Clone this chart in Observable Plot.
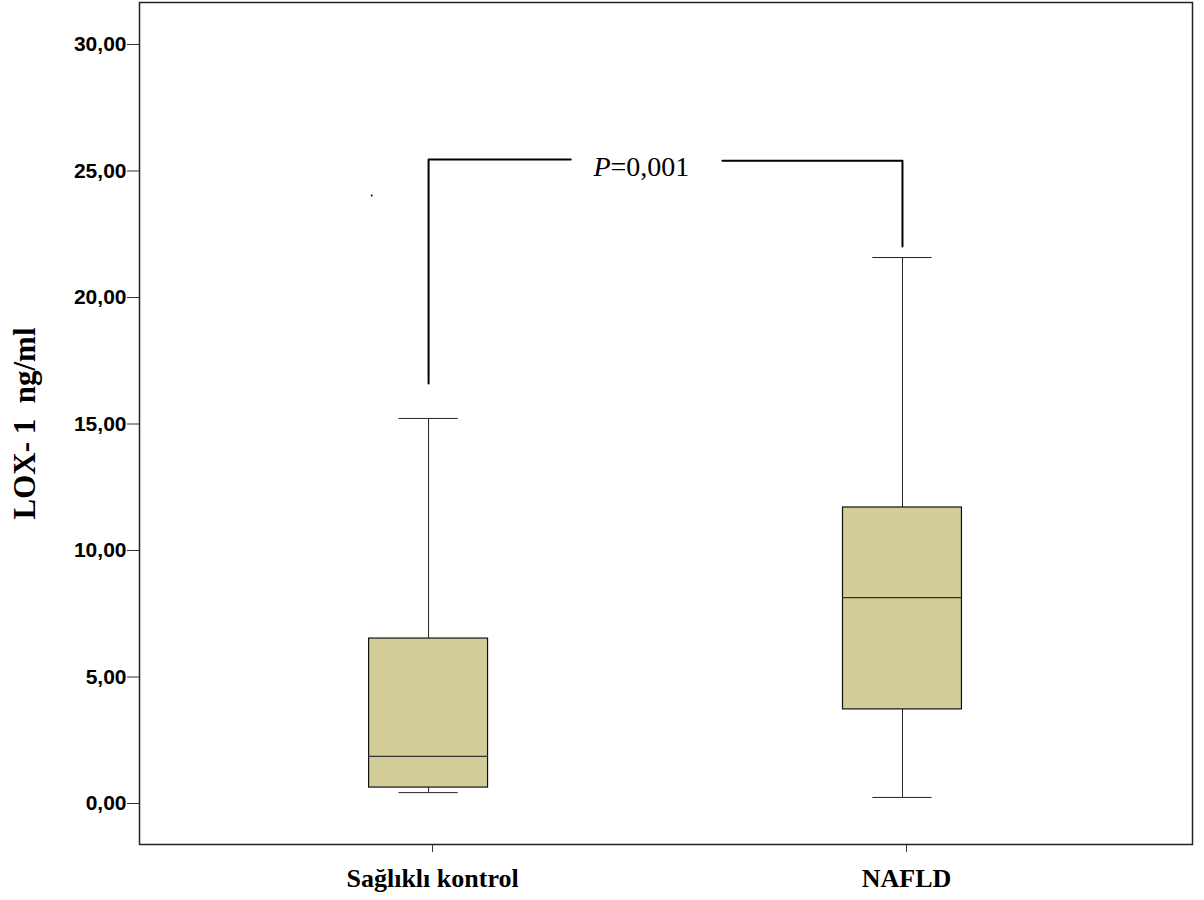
<!DOCTYPE html>
<html>
<head>
<meta charset="utf-8">
<script src="https://cdn.jsdelivr.net/npm/d3@7"></script>
<script src="https://cdn.jsdelivr.net/npm/@observablehq/plot@0.6"></script>
<style>
  html, body { margin: 0; padding: 0; background: #fff; }
  svg text { white-space: pre; }
</style>
</head>
<body>
<div id="chart"></div>
<script>
// ---- data ----
const groups = ["Sağlıklı kontrol", "NAFLD"];
const whiskerLow  = [0.43, 0.24];
const q1          = [0.63, 3.72];
const median      = [1.86, 8.14];
const q3          = [6.52, 11.70];
const whiskerHigh = [15.22, 21.58];
const outlierGroupPos = [-0.12];
const outlierValue    = [24.03];

const yTicks = [0, 5, 10, 15, 20, 25, 30];
const yLabel = "LOX- 1  ng/ml";

// significance bracket
const bracketLeft  = [{x: 0, y: 16.6}, {x: 0, y: 25.45}, {x: 0.30, y: 25.45}];
const bracketRight = [{x: 0.62, y: 25.41}, {x: 1, y: 25.41}, {x: 1, y: 22.02}];
const pLabelPos = {x: 0.384, y: 25.45};
const pLetter = "P";
const pRest = "=0,001";

// ---- build ----
const boxes = groups.map((g, i) => ({
  i, g, lo: whiskerLow[i], q1: q1[i], med: median[i], q3: q3[i], hi: whiskerHigh[i]
}));
const outliers = outlierValue.map((v, k) => ({x: outlierGroupPos[k], v}));
const halfBox = 0.1255, halfCap = 0.0625;
const fmt = d => d.toFixed(2).replace(".", ",");
const serif = "'Liberation Serif', 'Times New Roman', serif";

const chart = Plot.plot({
  width: 1204,
  height: 900,
  marginLeft: 139,
  marginRight: 12,
  marginTop: 2,
  marginBottom: 56,
  style: {fontFamily: "'Liberation Sans', Arial, sans-serif", fontSize: "21px", color: "#000", background: "#fff"},
  x: {type: "linear", domain: [-0.61, 1.612], label: null},
  y: {domain: [-1.62, 31.66], label: null},
  marks: [
    // whiskers
    Plot.ruleX(boxes, {x: "i", y1: "lo", y2: "q1", stroke: "#222", strokeWidth: 1}),
    Plot.ruleX(boxes, {x: "i", y1: "q3", y2: "hi", stroke: "#222", strokeWidth: 1}),
    Plot.ruleY(boxes, {y: "lo", x1: d => d.i - halfCap, x2: d => d.i + halfCap, stroke: "#222", strokeWidth: 1}),
    Plot.ruleY(boxes, {y: "hi", x1: d => d.i - halfCap, x2: d => d.i + halfCap, stroke: "#222", strokeWidth: 1}),
    // boxes
    Plot.rect(boxes, {x1: d => d.i - halfBox, x2: d => d.i + halfBox, y1: "q1", y2: "q3",
      fill: "#D3CE99", stroke: "#111", strokeWidth: 1.2}),
    Plot.ruleY(boxes, {y: "med", x1: d => d.i - halfBox, x2: d => d.i + halfBox, stroke: "#333", strokeWidth: 1.2}),
    // outlier
    Plot.dot(outliers, {x: "x", y: "v", r: 1, fill: "#000", stroke: null}),
    // bracket
    Plot.line(bracketLeft, {x: "x", y: "y", stroke: "#000", strokeWidth: 2}),
    Plot.line(bracketRight, {x: "x", y: "y", stroke: "#000", strokeWidth: 2}),
    Plot.text([pLabelPos], {x: "x", y: "y", text: () => pLetter, textAnchor: "end", lineAnchor: "middle", dy: 7,
      fontFamily: serif, fontStyle: "italic", fontSize: 28, fill: "#000"}),
    Plot.text([pLabelPos], {x: "x", y: "y", text: () => pRest, textAnchor: "start", lineAnchor: "middle", dy: 7,
      fontFamily: serif, fontSize: 28, fill: "#000"}),
    // axes
    Plot.axisY({ticks: yTicks, tickFormat: fmt, tickSize: 12, tickPadding: 1, stroke: "#333",
      fontSize: 21, fontWeight: "bold", fill: "#000"}),
    Plot.axisX({ticks: [0, 1], tickFormat: i => groups[i], tickSize: 8, tickPadding: 16, stroke: "#333",
      fontFamily: serif, fontWeight: "bold", fontSize: 26, fill: "#000", dx: 4}),
    Plot.text([yLabel], {frameAnchor: "left", text: d => d, rotate: -90, dx: -114, textAnchor: "middle", lineAnchor: "middle",
      fontFamily: serif, fontWeight: "bold", fontSize: 31, fill: "#000"}),
    Plot.frame({stroke: "#222", strokeWidth: 1.5})
  ]
});
document.getElementById("chart").appendChild(chart);
</script>
</body>
</html>
